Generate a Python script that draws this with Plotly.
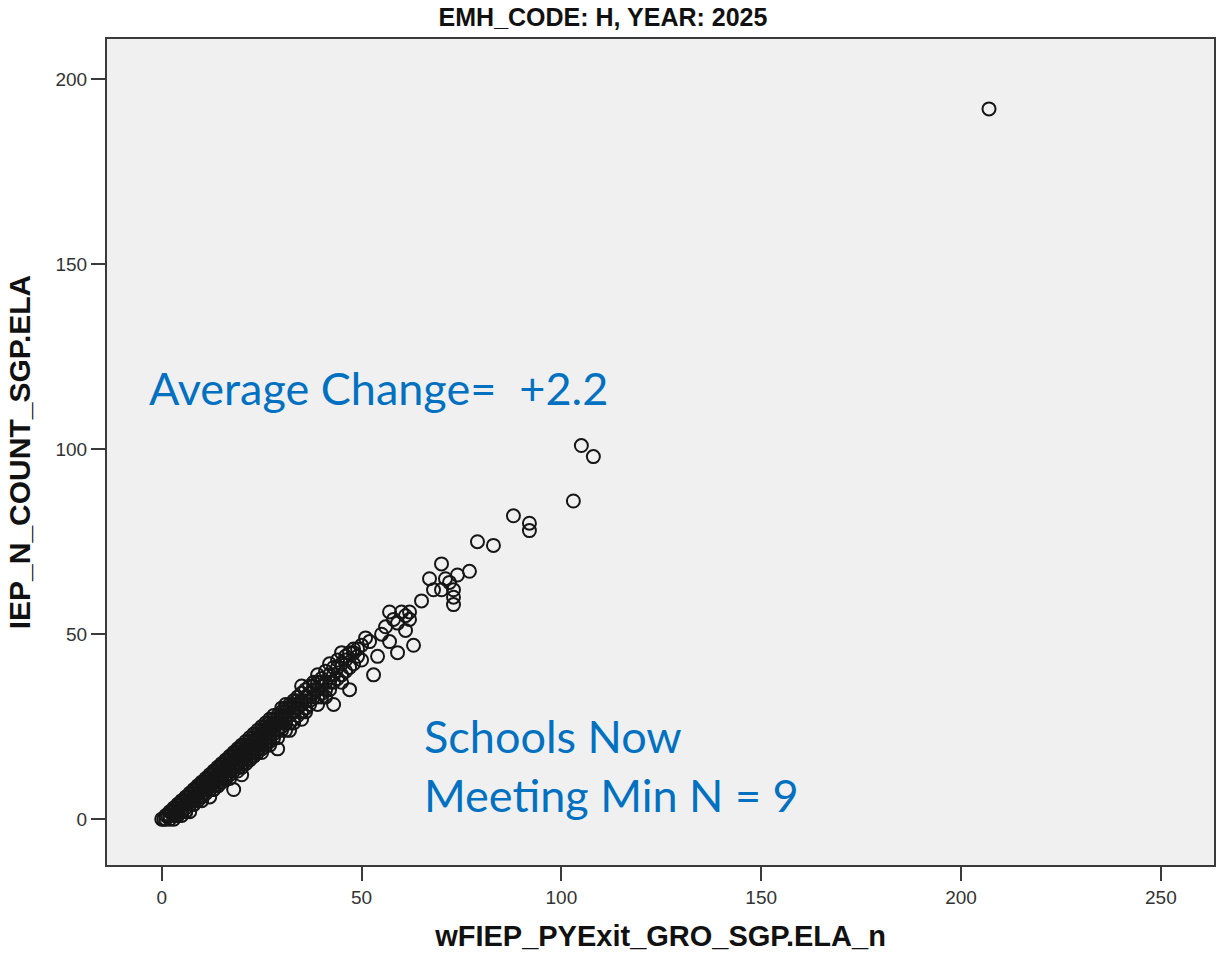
import plotly.graph_objects as go

# Prior-year exit growth N (x) vs. current IEP count (y), high schools, 2025
exit_growth_n = [
    0, 0.5, 1, 1, 1.5, 2, 2, 2.5, 3, 3, 3, 3.5, 4, 4, 4, 4.5, 5, 5, 5, 5.5,
    6, 6, 6, 6.5, 7, 7, 7, 7.5, 8, 8, 8, 8.5, 9, 9, 9, 9.5, 10, 10, 10, 10,
    2, 3, 4, 5, 5, 6, 6, 7, 7, 8, 8, 9, 9, 10,
    10.5, 11, 11, 11, 11.5, 12, 12, 12, 12, 12.5, 13, 13, 13, 13, 13.5, 14, 14, 14, 14, 14.5,
    15, 15, 15, 15, 15.5, 16, 16, 16, 16, 16.5, 17, 17, 17, 17, 17.5, 18, 18, 18, 18, 18.5,
    19, 19, 19, 19, 19.5, 20, 20, 20, 20, 20,
    11, 11, 12, 12, 13, 13, 14, 14, 15, 15, 16, 16, 17, 17, 18, 18, 19, 19, 20, 20, 20,
    21, 21, 21, 21, 22, 22, 22, 22, 23, 23, 23, 23, 24, 24, 24, 24, 25, 25, 25, 25,
    26, 26, 26, 26, 27, 27, 27, 27, 28, 28, 28, 28, 29, 29, 29, 30, 30, 30, 30,
    21, 21, 21, 22, 22, 22, 23, 23, 23, 24, 24, 24, 25, 25, 25, 26, 26, 26,
    27, 27, 27, 28, 28, 28, 29, 29, 29, 30, 30, 30,
    31, 31, 31, 32, 32, 32, 33, 33, 33, 34, 34, 34, 35, 35, 35, 35, 36, 36, 37, 37, 37,
    38, 38, 39, 39, 39, 40, 40, 40, 41, 41, 42, 42, 42, 43, 43, 44, 44, 45, 45, 45,
    31, 31, 32, 32, 33, 33, 34, 34, 35, 35, 36, 36, 37, 38, 38, 39, 40, 40, 41, 42,
    43, 43, 44, 45, 46, 48, 49,
    4, 6, 8, 10, 11, 13, 14, 16, 17, 19, 23, 25, 27, 31, 33, 36, 39, 41,
    46, 46, 47, 47, 47, 48, 48, 49, 50, 50, 51, 52, 53, 54, 55, 56, 57, 57, 58, 59,
    59, 60, 61, 61, 62, 62, 63,
    65, 67, 68, 70, 70, 71, 72, 73, 73, 73, 74, 77, 79, 83, 88, 92, 92, 103, 105, 108,
    207,
]
iep_count = [
    0, 0, 1, 0, 1, 2, 1, 2, 3, 2, 1, 3, 4, 3, 2, 4, 5, 4, 3, 5,
    6, 5, 4, 6, 7, 6, 2, 7, 8, 7, 6, 8, 9, 8, 7, 9, 10, 9, 8, 7,
    0, 0, 1, 1, 2, 2, 3, 4, 5, 4, 5, 5, 6, 6,
    10, 11, 10, 9, 11, 12, 11, 10, 6, 12, 13, 12, 11, 10, 13, 14, 13, 12, 11, 14,
    15, 14, 13, 10, 15, 16, 15, 14, 13, 16, 17, 16, 15, 14, 17, 18, 17, 16, 8, 18,
    19, 18, 17, 15, 19, 20, 19, 18, 12, 16,
    7, 8, 8, 9, 8, 9, 9, 10, 11, 12, 11, 12, 12, 13, 13, 14, 14, 16, 14, 15, 17,
    21, 20, 19, 15, 22, 21, 20, 18, 23, 22, 21, 19, 24, 23, 22, 20, 25, 24, 23, 21,
    26, 25, 24, 22, 27, 26, 25, 23, 28, 27, 24, 23, 28, 26, 19, 30, 29, 27, 25,
    16, 17, 18, 16, 17, 19, 17, 18, 20, 18, 19, 21, 19, 20, 22, 20, 21, 23,
    21, 22, 24, 22, 25, 26, 22, 24, 27, 24, 26, 28,
    31, 29, 28, 31, 30, 24, 32, 31, 29, 33, 30, 32, 36, 34, 27, 32, 35, 33, 36, 34, 31,
    37, 35, 39, 37, 35, 38, 36, 33, 40, 37, 42, 39, 35, 41, 31, 41, 38, 45, 42, 39,
    26, 30, 26, 28, 27, 30, 28, 31, 29, 31, 30, 32, 32, 33, 36, 33, 34, 37, 35, 37,
    37, 39, 43, 37, 40, 42, 46,
    1, 2, 4, 5, 7, 8, 9, 11, 11, 13, 17, 18, 20, 24, 26, 29, 31, 33,
    44, 43, 45, 41, 35, 45, 46, 44, 43, 47, 49, 48, 39, 44, 50, 52, 56, 48, 54, 53,
    45, 56, 55, 51, 54, 56, 47,
    59, 65, 62, 69, 62, 65, 64, 62, 60, 58, 66, 67, 75, 74, 82, 80, 78, 86, 101, 98,
    192,
]

x_ticks = [0, 50, 100, 150, 200, 250]
y_ticks = [0, 50, 100, 150, 200]

chart_title = "EMH_CODE: H, YEAR: 2025"
x_title = "wFIEP_PYExit_GRO_SGP.ELA_n"
y_title = "IEP_N_COUNT_SGP.ELA"
note_avg = "Average Change=\u00a0\u00a0+2.2"
note_line1 = "Schools Now"
note_line2 = "Meeting Min N = 9"

BLUE = "#0070C0"
AXIS = "#3a3a3a"
FONT = "Liberation Sans, Arial, sans-serif"

fig = go.Figure(
    go.Scatter(
        x=exit_growth_n,
        y=iep_count,
        mode="markers",
        marker=dict(
            symbol="circle-open",
            size=13,
            color="#161616",
            line=dict(width=2, color="#161616"),
        ),
        hoverinfo="x+y",
    )
)

axis_common = dict(
    showgrid=False,
    zeroline=False,
    showline=True,
    linecolor=AXIS,
    linewidth=2,
    mirror=True,
    ticks="outside",
    ticklen=14,
    tickwidth=2,
    tickcolor=AXIS,
    tickfont=dict(family=FONT, size=19, color="#333333"),
)

fig.update_xaxes(
    range=[-13.7, 263.3],
    tickvals=x_ticks,
    ticktext=[str(v) for v in x_ticks],
    title=dict(text="<b>" + x_title + "</b>", font=dict(family=FONT, size=29, color="#111111"), standoff=19),
    **axis_common,
)
fig.update_yaxes(
    range=[-12.4, 210.9],
    tickvals=y_ticks,
    ticktext=[str(v) for v in y_ticks],
    title=dict(text="<b>" + y_title + "</b>", font=dict(family=FONT, size=30, color="#111111"), standoff=16),
    **axis_common,
)

fig.update_layout(
    width=1216,
    height=954,
    margin=dict(l=107, r=2, t=39, b=89, autoexpand=False),
    paper_bgcolor="white",
    plot_bgcolor="#F0F0F0",
    showlegend=False,
    title=dict(
        text="<b>" + chart_title + "</b>",
        font=dict(family=FONT, size=25, color="#111111"),
        x=603 / 1216,
        xref="container",
        xanchor="center",
        y=1 - 17 / 954,
        yref="container",
        yanchor="middle",
    ),
)

note_font = dict(family="Lato, Open Sans, sans-serif", size=45, color=BLUE)
for text, xv, yv in [
    (note_avg, -3.4, 116.6),
    (note_line1, 65.4, 22.6),
    (note_line2, 65.4, 6.6),
]:
    fig.add_annotation(
        text=text, x=xv, y=yv, xref="x", yref="y",
        xanchor="left", yanchor="middle", showarrow=False,
        font=note_font, borderpad=0,
    )

fig.write_html("out.html")
